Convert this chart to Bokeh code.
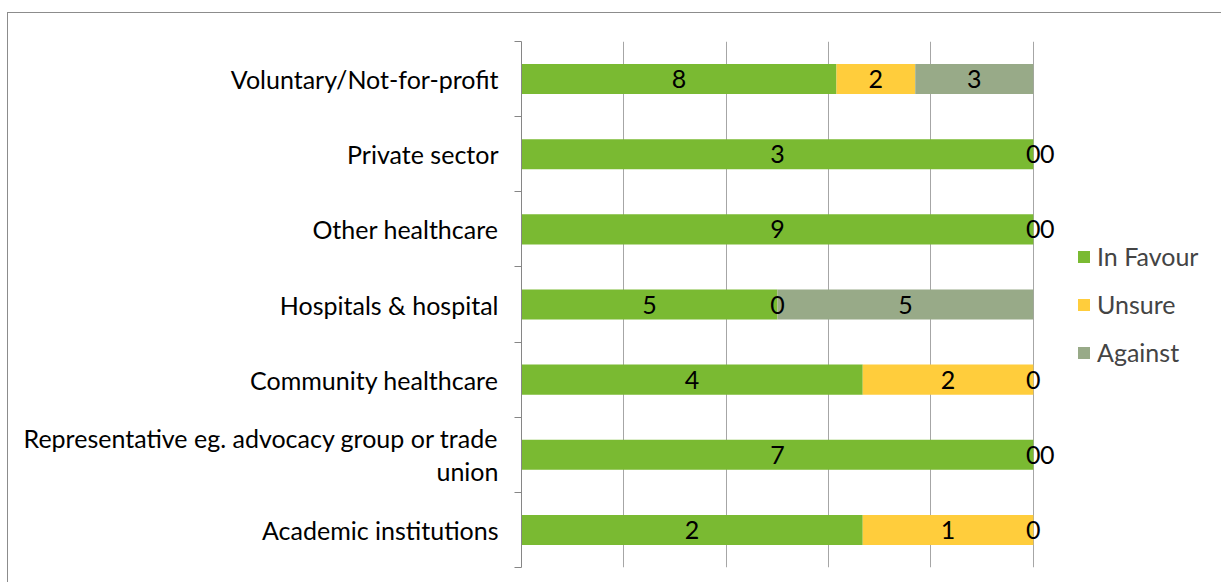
import numpy as np
from bokeh.plotting import figure
from bokeh.models import (ColumnDataSource, Range1d, LinearAxis, FixedTicker, LabelSet,
                          Legend, LegendItem)
from bokeh.core.properties import value
from bokeh.embed import file_html
from bokeh.resources import INLINE

# ---- data (bottom to top) ----
categories = ["Academic institutions",
              "Representative eg. advocacy group or trade\nunion",
              "Community healthcare",
              "Hospitals & hospital",
              "Other healthcare",
              "Private sector",
              "Voluntary/Not-for-profit"]
in_favour = [2, 7, 4, 5, 9, 3, 8]
unsure = [1, 0, 2, 0, 0, 0, 2]
against = [0, 0, 0, 5, 0, 0, 3]
series_names = ["In Favour", "Unsure", "Against"]
colors = ["#7aba32", "#ffcd3c", "#98aa88"]

FONT = "Lato"
FS = "25px"

n = len(categories)
ys = np.arange(n) + 0.5
vals = np.array([in_favour, unsure, against], dtype=float)
tot = vals.sum(axis=0)
frac = vals / tot
cum = np.vstack([np.zeros(n), np.cumsum(frac, axis=0)])

X_END = 1.35
p = figure(width=1214, height=570, output_backend="svg", toolbar_location=None,
           x_range=Range1d(0, X_END), y_range=Range1d(0, n),
           min_border_left=513, min_border_right=1214 - 513 - 691, min_border_top=28,
           min_border_bottom=16, y_axis_location=None)
p.styles = {"margin-left": "7px", "margin-top": "12px",
            "border-left": "1px solid #8c8c8c", "border-top": "1px solid #8c8c8c"}
p.outline_line_color = None
p.xaxis.visible = False
p.xgrid.ticker = FixedTicker(ticks=[0, 0.2, 0.4, 0.6, 0.8, 1.0])
p.xgrid.grid_line_color = "#a6a6a6"
p.xgrid.grid_line_width = 1
p.ygrid.visible = False

renderers = []
for i, name in enumerate(series_names):
    src = ColumnDataSource(dict(y=ys, left=cum[i], right=cum[i + 1]))
    r = p.hbar(y="y", left="left", right="right", height=0.4, source=src,
               fill_color=colors[i], line_color=None)
    renderers.append(r)

# data labels
lx, ly, lt, lo = [], [], [], []
for j in range(n):
    prev_x, prev_off = None, 0
    for i in range(3):
        cx = (cum[i][j] + cum[i + 1][j]) / 2
        off = 0
        if prev_x is not None and abs(cx - prev_x) < 0.015:
            off = prev_off + 14
        lx.append(cx); ly.append(ys[j]); lt.append(str(int(vals[i][j]))); lo.append(off)
        prev_x, prev_off = cx, off
lsrc = ColumnDataSource(dict(x=lx, y=ly, t=lt, o=lo))
labels = LabelSet(x="x", y="y", text="t", x_offset="o", source=lsrc,
                  text_align="center", text_baseline="middle",
                  text_font=value(FONT), text_font_size=value(FS), text_color="#000000")
p.add_layout(labels)

# y axis with boundary ticks
yax = LinearAxis(ticker=FixedTicker(ticks=list(ys), minor_ticks=list(range(n + 1))))
yax.major_label_overrides = {float(y): c for y, c in zip(ys, categories)}
yax.axis_line_color = "#868686"
yax.major_tick_line_color = None
yax.major_tick_out = 0
yax.major_tick_in = 0
yax.minor_tick_line_color = "#868686"
yax.minor_tick_out = 7
yax.minor_tick_in = 0
yax.major_label_standoff = 16
yax.major_label_text_font = FONT
yax.major_label_text_font_size = FS
yax.major_label_text_color = "#000000"
yax.major_label_text_line_height = 1.1
p.add_layout(yax, "left")

legend = Legend(items=[LegendItem(label=nm, renderers=[r]) for nm, r in zip(series_names, renderers)],
                location=(555, 200), glyph_width=15, glyph_height=15, label_height=24,
                spacing=18, padding=0, margin=0, label_standoff=6,
                label_text_font=FONT, label_text_font_size=FS,
                border_line_color=None, background_fill_alpha=0)
p.add_layout(legend)

open("out.html", "w").write(file_html(p, INLINE))
